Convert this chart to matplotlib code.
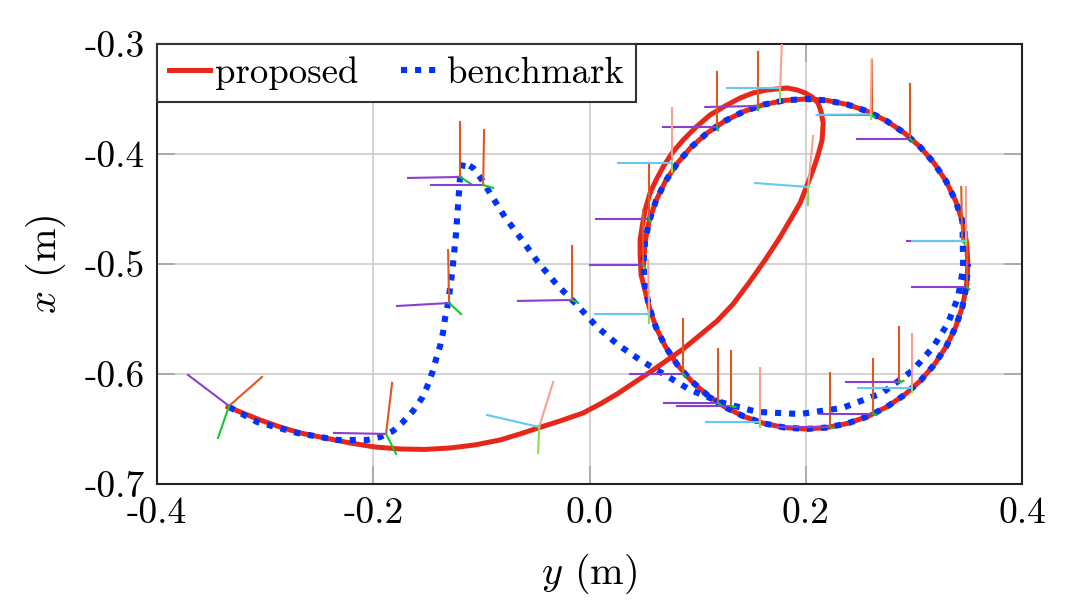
import matplotlib.pyplot as plt

plt.rcParams["font.family"] = "cmr10"
plt.rcParams["mathtext.fontset"] = "cm"
plt.rcParams["axes.unicode_minus"] = False
plt.rcParams["axes.formatter.use_mathtext"] = True

# circle part shared by both paths (y, x) (0.2, -0.5)
loop_y = [0.3500, 0.3487, 0.3449, 0.3386, 0.3299, 0.3190, 0.3061, 0.2913, 0.2750, 0.2574,
          0.2388, 0.2196, 0.2000, 0.1804, 0.1612, 0.1426, 0.1250, 0.1087, 0.0939, 0.0810,
          0.0701, 0.0614, 0.0551, 0.0513, 0.0500, 0.0513, 0.0551, 0.0614, 0.0701, 0.0810,
          0.0939, 0.1087, 0.1250, 0.1426, 0.1612, 0.1804, 0.2000, 0.2196, 0.2388, 0.2574,
          0.2750, 0.2913, 0.3061, 0.3190, 0.3299, 0.3386, 0.3449, 0.3487]
loop_x = [-0.5000, -0.4804, -0.4612, -0.4426, -0.4250, -0.4087, -0.3939, -0.3810, -0.3701, -0.3614,
          -0.3551, -0.3513, -0.3500, -0.3513, -0.3551, -0.3614, -0.3701, -0.3810, -0.3939, -0.4087,
          -0.4250, -0.4426, -0.4612, -0.4804, -0.5000, -0.5196, -0.5388, -0.5574, -0.5750, -0.5913,
          -0.6061, -0.6190, -0.6299, -0.6386, -0.6449, -0.6487, -0.6500, -0.6487, -0.6449, -0.6386,
          -0.6299, -0.6190, -0.6061, -0.5913, -0.5750, -0.5574, -0.5388, -0.5196]

# proposed: approach, diagonal through the loop, overshoot at the top
prop_head_y = [-0.3343, -0.3186, -0.3047, -0.2862, -0.2677, -0.2446, -0.2215, -0.1984, -0.1752, -0.1521,
               -0.1290, -0.1059, -0.0827, -0.0642, -0.0476, -0.0272, -0.0060, 0.0098, 0.0255, 0.0561,
               0.0866, 0.1180, 0.1328, 0.1467, 0.1624, 0.1763, 0.1856, 0.1948, 0.2068, 0.2114,
               0.2151, 0.2161, 0.2142, 0.2114, 0.2059, 0.1994, 0.1920, 0.1828, 0.1643, 0.1513,
               0.1393, 0.1254, 0.1115, 0.0986, 0.0866, 0.0764, 0.0680, 0.0616, 0.0560, 0.0514,
               0.0486, 0.0468, 0.0468, 0.0477]
prop_head_x = [-0.6300, -0.6364, -0.6418, -0.6482, -0.6536, -0.6582, -0.6627, -0.6664, -0.6682, -0.6686,
               -0.6673, -0.6645, -0.6600, -0.6545, -0.6491, -0.6427, -0.6355, -0.6273, -0.6182, -0.5982,
               -0.5773, -0.5518, -0.5364, -0.5182, -0.4964, -0.4755, -0.4600, -0.4445, -0.4145, -0.4009,
               -0.3873, -0.3718, -0.3618, -0.3536, -0.3482, -0.3445, -0.3418, -0.3400, -0.3418, -0.3445,
               -0.3491, -0.3564, -0.3645, -0.3755, -0.3873, -0.3991, -0.4118, -0.4236, -0.4355, -0.4509,
               -0.4664, -0.4782, -0.4900, -0.5100]

# benchmark: approach with the spike, inner arc, then the loop
bench_head_y = [-0.3334, -0.3075, -0.2705, -0.2335, -0.2057, -0.1937, -0.1817, -0.1725, -0.1632, -0.1549,
                -0.1503, -0.1456, -0.1419, -0.1382, -0.1354, -0.1336, -0.1308, -0.1271, -0.1234, -0.1216,
                -0.1197, -0.1169, -0.1077, -0.0994, -0.0921, -0.0783, -0.0624, -0.0478, -0.0300, -0.0115,
                0.0070, 0.0265, 0.0468, 0.0699, 0.0931, 0.1208, 0.1550, 0.1948, 0.2337, 0.2707,
                0.2993, 0.3178, 0.3317, 0.3409, 0.3456]
bench_head_x = [-0.6300, -0.6436, -0.6536, -0.6600, -0.6600, -0.6573, -0.6518, -0.6436, -0.6336, -0.6218,
                -0.6118, -0.5991, -0.5864, -0.5745, -0.5618, -0.5491, -0.5355, -0.5082, -0.4718, -0.4464,
                -0.4209, -0.4073, -0.4127, -0.4236, -0.4355, -0.4573, -0.4782, -0.4982, -0.5191, -0.5373,
                -0.5573, -0.5736, -0.5873, -0.6009, -0.6145, -0.6255, -0.6345, -0.6364, -0.6309, -0.6173,
                -0.5964, -0.5755, -0.5536, -0.5300, -0.5036]

# end-effector frames: origin (y, x) and three axis vectors (dy, dx)
bench_frames = [
    ((-0.3334, -0.6291), (0.0305, 0.0264), (-0.0379, 0.0282), (-0.0102, -0.0291)),
    ((-0.1882, -0.6545), (0.0056, 0.0464), (-0.0481, 0.0009), (0.0093, -0.0182)),
    ((-0.1299, -0.5355), (-0.0009, 0.0482), (-0.0481, -0.0027), (0.0111, -0.0100)),
    ((-0.0161, -0.5327), (0.0, 0.0491), (-0.0500, -0.0009), (0.0056, -0.0027)),
    ((-0.1197, -0.4209), (0.0, 0.0500), (-0.0481, -0.0009), (0.0102, -0.0064)),
    ((-0.0984, -0.4282), (0.0009, 0.0500), (-0.0481, 0.0), (0.0093, -0.0027)),
    ((0.1560, -0.3564), (0.0, 0.0491), (-0.0490, -0.0009), (0.0, -0.0040)),
    ((0.1180, -0.3755), (0.0, 0.0500), (-0.0500, 0.0), (0.0010, -0.0030)),
    ((0.0551, -0.4591), (0.0, 0.0509), (-0.0490, 0.0), (0.0010, -0.0030)),
    ((0.0496, -0.5009), (0.0, 0.0500), (-0.0490, 0.0), (0.0020, -0.0030)),
    ((0.0866, -0.6000), (0.0, 0.0500), (-0.0490, 0.0), (0.0020, -0.0020)),
    ((0.1190, -0.6264), (0.0, 0.0491), (-0.0500, 0.0), (0.0030, -0.0020)),
    ((0.1310, -0.6291), (0.0, 0.0500), (-0.0500, 0.0), (0.0040, -0.0010)),
    ((0.2226, -0.6482), (0.0, 0.0491), (-0.0490, 0.0), (0.0030, -0.0010)),
    ((0.2624, -0.6364), (0.0, 0.0500), (-0.0490, 0.0), (0.0030, -0.0010)),
    ((0.2864, -0.6073), (0.0, 0.0500), (-0.0490, 0.0), (0.0040, 0.0010)),
    ((0.2614, -0.3645), (0.0, 0.0500), (-0.0500, 0.0), (0.0020, -0.0020)),
    ((0.2966, -0.3864), (0.0, 0.0500), (-0.0490, 0.0), (0.0020, -0.0020)),
    ((0.3447, -0.4791), (-0.0009, 0.0491), (-0.0509, 0.0), (0.0020, -0.0020)),
    ((0.3493, -0.5209), (0.0, 0.0500), (-0.0509, 0.0), (0.0020, -0.0020)),
]
prop_frames = [
    ((-0.0466, -0.6482), (0.0130, 0.0409), (-0.0481, 0.0109), (-0.0009, -0.0236)),
    ((0.1763, -0.3400), (0.0019, 0.0480), (-0.0490, 0.0), (0.0, -0.0127)),
    ((0.0764, -0.4082), (0.0, 0.0500), (-0.0500, 0.0), (0.0, -0.0080)),
    ((0.0551, -0.5455), (-0.0009, 0.0491), (-0.0500, 0.0), (0.0, -0.0080)),
    ((0.1578, -0.6436), (0.0, 0.0491), (-0.0500, 0.0), (0.0, -0.0050)),
    ((0.2984, -0.6127), (0.0, 0.0491), (-0.0500, 0.0), (0.0, -0.0040)),
    ((0.2600, -0.3640), (0.0010, 0.0500), (-0.0500, -0.0005), (0.0, -0.0040)),
    ((0.3484, -0.4791), (0.0, 0.0490), (-0.0500, 0.0), (0.0, -0.0040)),
    ((0.2022, -0.4300), (0.0046, 0.0464), (-0.0490, 0.0036), (0.0, -0.0164)),
]

y_ticks = [-0.4, -0.2, 0.0, 0.2, 0.4]
y_ticklabels = ["-0.4", "-0.2", "0.0", "0.2", "0.4"]
x_ticks = [-0.7, -0.6, -0.5, -0.4, -0.3]
x_ticklabels = ["-0.7", "-0.6", "-0.5", "-0.4", "-0.3"]

# proposed joins the loop on its left side (index 25 onwards), benchmark on the right
prop_y = prop_head_y + loop_y[26:] + loop_y[:25]
prop_x = prop_head_x + loop_x[26:] + loop_x[:25]
bench_y = bench_head_y + loop_y[2:] + loop_y[:1]
bench_x = bench_head_x + loop_x[2:] + loop_x[:1]

fig = plt.figure(figsize=(10.8, 6.09), dpi=100)
ax = fig.add_axes([0.1454, 0.2053, 0.8009, 0.7225])

ax.plot(prop_y, prop_x, color="#e8261a", lw=3.6, solid_joinstyle="round",
        label="proposed", zorder=3)
ax.plot(bench_y, bench_x, color="#0033ff", lw=4.4, linestyle=(0, (1, 1.3)),
        dash_capstyle="butt", label="benchmark", zorder=4)


def draw_frames(frames, colors):
    for (y0, x0), *axes_vec in frames:
        for (dy, dx), c in zip(axes_vec, colors):
            ax.plot([y0, y0 + dy], [x0, x0 + dx], color=c, lw=1.5, zorder=5)


draw_frames(bench_frames, ["#dc5a1e", "#8a3fd0", "#14c828"])
draw_frames(prop_frames, ["#f8a090", "#64c8f0", "#8cdc50"])

ax.set_xlim(-0.4, 0.4)
ax.set_ylim(-0.7, -0.3)
ax.set_xticks(y_ticks, y_ticklabels)
ax.set_yticks(x_ticks, x_ticklabels)
ax.tick_params(direction="in", length=13, width=1.1, color="#a0a0a0",
               top=True, right=True, labelsize=27, pad=9)
ax.grid(color="#c8c8c8", lw=1.1)
ax.set_axisbelow(True)
for s in ax.spines.values():
    s.set_linewidth(1.5)
    s.set_color("#222222")

ax.set_xlabel("$y$ (m)", fontsize=29, labelpad=16)
ax.set_ylabel("$x$ (m)", fontsize=29, labelpad=12)

leg = ax.legend(loc="upper left", ncol=2, fancybox=False, edgecolor="#333333",
                framealpha=1, borderaxespad=0, handlelength=1.1, handletextpad=0.15,
                columnspacing=1.15, fontsize=26.5, borderpad=0.33)
leg.get_frame().set_linewidth(1.5)

fig.savefig("out.png", dpi=100)
